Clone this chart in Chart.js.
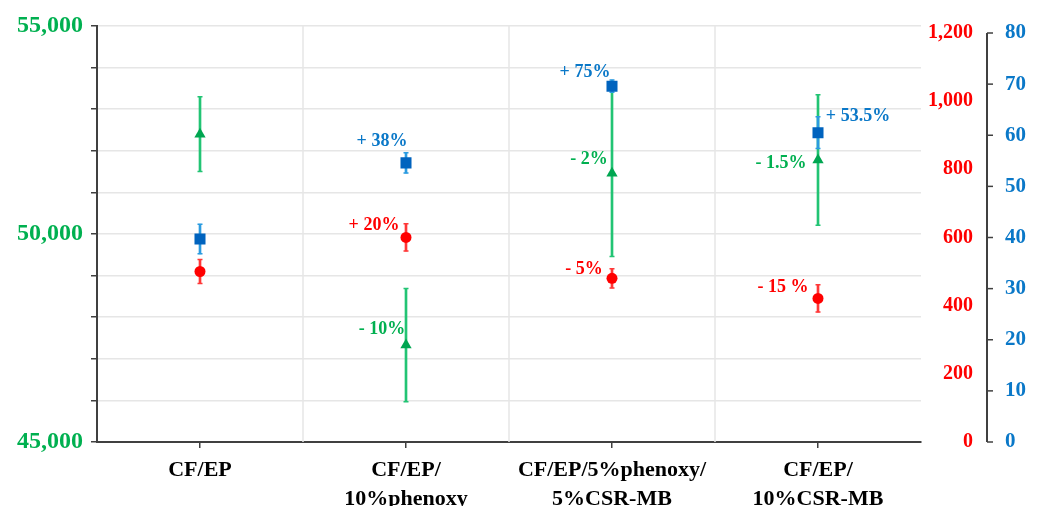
<!DOCTYPE html>
<html><head><meta charset="utf-8">
<script src="https://cdn.jsdelivr.net/npm/chart.js@4.4.1/dist/chart.umd.min.js"></script>
<style>html,body{margin:0;padding:0;background:#fff}</style>
</head><body>
<canvas id="c" width="1041" height="506"></canvas>
<script>
// ---- data ----
const categories = [['CF/EP'], ['CF/EP/', '10%phenoxy'], ['CF/EP/5%phenoxy/', '5%CSR-MB'], ['CF/EP/', '10%CSR-MB']];
const greenMean = [52400, 47330, 51460, 51780];
const greenErr  = [900, 1360, 2000, 1570];
const redMean   = [500, 600, 480, 421];
const redErr    = [35, 40, 28, 40];
const blueMean  = [39.7, 54.6, 69.6, 60.5];
const blueErr   = [2.9, 2.0, 1.2, 3.1];
const greenLabelTicks = [45000, 50000, 55000];
const redTicks  = [0, 200, 400, 600, 800, 1000, 1200];
const blueTicks = [0, 10, 20, 30, 40, 50, 60, 70, 80];
const annoText   = ['+ 38%', '+ 20%', '- 10%', '+ 75%', '- 2%', '- 5%', '+ 53.5%', '- 1.5%', '- 15 %'];
const annoSeries = ['blue', 'red', 'green', 'blue', 'green', 'red', 'blue', 'green', 'red'];
const annoIndex  = [1, 1, 1, 2, 2, 2, 3, 3, 3];

// ---- styles ----
const SERIF = "'Liberation Serif', 'Times New Roman', serif";
const C = {
  green: {text: '#00b050', mark: '#00a651', err: '#22c474', axis: 'y'},
  red:   {text: '#ff0000', mark: '#ff0000', err: '#ff3838', axis: 'y1'},
  blue:  {text: '#0a78c8', mark: '#0063be', err: '#2b9be0', axis: 'y2'}
};
const annoOffset = [[-24,-22],[-32,-12],[-24,-16],[-27,-14],[-23,-14],[-28,-9],[40,-16],[-37,3],[-35,-11]];
const AXIS = '#404040', GRID = '#e6e6e6';
const BLUE_AXIS_GAP = 14, BLUE_TICK = 6;
const series = {green: [greenMean, greenErr], red: [redMean, redErr], blue: [blueMean, blueErr]};

function stems(name, order) {
  const [m, e] = series[name];
  return {type: 'bar', yAxisID: C[name].axis, data: m.map((v, i) => [v - e[i], v + e[i]]),
    backgroundColor: C[name].err, borderWidth: 0, barThickness: 2, grouped: false, order};
}
function cap(name, sign, order) {
  const [m, e] = series[name];
  return {type: 'line', yAxisID: C[name].axis, showLine: false, order,
    data: m.map((v, i) => v + sign * e[i]),
    pointStyle: 'line', pointRadius: 2.5, pointBorderWidth: 1.5, borderColor: C[name].err, backgroundColor: C[name].err};
}
function marks(name, style, r, order) {
  return {type: 'line', yAxisID: C[name].axis, showLine: false, order, data: series[name][0],
    pointStyle: style, pointRadius: r, pointBorderWidth: 0, backgroundColor: C[name].mark, borderColor: C[name].mark};
}

const boundaryLines = {
  id: 'boundaryLines',
  beforeDatasetsDraw(chart) {
    const {ctx, chartArea: a, scales: {x}} = chart;
    ctx.save(); ctx.strokeStyle = GRID; ctx.lineWidth = 1.5;
    for (let i = 1; i < categories.length; i++) {
      const px = (x.getPixelForValue(i - 1) + x.getPixelForValue(i)) / 2;
      ctx.beginPath(); ctx.moveTo(px, a.top); ctx.lineTo(px, a.bottom); ctx.stroke();
    }
    ctx.restore();
  }
};
const blueAxisLine = {
  id: 'blueAxisLine',
  afterDraw(chart) {
    const s = chart.scales.y2, ctx = chart.ctx, bx = s.left + BLUE_AXIS_GAP;
    ctx.save(); ctx.strokeStyle = AXIS; ctx.lineWidth = 2;
    ctx.beginPath(); ctx.moveTo(bx, s.getPixelForValue(blueTicks[blueTicks.length - 1]));
    ctx.lineTo(bx, s.getPixelForValue(0)); ctx.stroke();
    ctx.lineWidth = 1.5;
    blueTicks.forEach(v => {
      const py = s.getPixelForValue(v);
      ctx.beginPath(); ctx.moveTo(bx, py); ctx.lineTo(bx + BLUE_TICK, py); ctx.stroke();
    });
    ctx.restore();
  }
};
const annotations = {
  id: 'annotations',
  afterDatasetsDraw(chart) {
    const ctx = chart.ctx, x = chart.scales.x;
    ctx.save(); ctx.font = 'bold 18px ' + SERIF; ctx.textAlign = 'center'; ctx.textBaseline = 'middle';
    annoText.forEach((t, k) => {
      const name = annoSeries[k], i = annoIndex[k];
      const ys = chart.scales[C[name].axis];
      ctx.fillStyle = C[name].text;
      ctx.fillText(t, x.getPixelForValue(i) + annoOffset[k][0], ys.getPixelForValue(series[name][0][i]) + annoOffset[k][1]);
    });
    ctx.restore();
  }
};

new Chart(document.getElementById('c'), {
  type: 'line',
  data: {
    labels: categories,
    datasets: [
      stems('green', 20), cap('green', 1, 19), cap('green', -1, 19),
      stems('red', 18), cap('red', 1, 17), cap('red', -1, 17),
      stems('blue', 16), cap('blue', 1, 15), cap('blue', -1, 15),
      marks('green', 'triangle', 6.5, 5),
      marks('red', 'circle', 5.5, 4),
      marks('blue', 'rect', 7.8, 3)
    ]
  },
  options: {
    responsive: false, animation: false, devicePixelRatio: 1,
    layout: {padding: {top: 26, left: 0, right: 0, bottom: 0}},
    plugins: {legend: {display: false}, tooltip: {enabled: false}},
    scales: {
      x: {
        type: 'category', offset: true,
        grid: {offset: false, drawOnChartArea: false, tickLength: 6, color: AXIS, lineWidth: 1.5},
        border: {color: AXIS, width: 2},
        ticks: {color: '#000', font: {family: SERIF, size: 22, weight: 'bold', lineHeight: 1.3}, padding: 8, maxRotation: 0, autoSkip: false},
        afterFit(s) { s.height = 64; }
      },
      y: {
        position: 'left', min: 45000, max: 55000,
        ticks: {stepSize: 1000, color: C.green.text, padding: 8,
          font: {family: SERIF, size: 24, weight: 'bold'},
          callback: v => greenLabelTicks.includes(v) ? v.toLocaleString('en-US') : ''},
        grid: {color: GRID, lineWidth: 1.5, tickLength: 6, tickColor: AXIS, tickWidth: 1.5},
        border: {color: AXIS, width: 2},
        afterFit(s) { s.width = 97; }
      },
      y1: {
        position: 'right', min: 0, max: 1220,
        afterBuildTicks(s) { s.ticks = redTicks.map(v => ({value: v})); },
        ticks: {color: C.red.text, crossAlign: 'far', padding: 0,
          font: {family: SERIF, size: 20, weight: 'bold'},
          callback: v => v.toLocaleString('en-US')},
        grid: {display: false, drawTicks: false},
        border: {display: false},
        afterFit(s) { s.width = 52; }
      },
      y2: {
        position: 'right', min: 0, max: 81.37,
        afterBuildTicks(s) { s.ticks = blueTicks.map(v => ({value: v})); },
        ticks: {color: C.blue.text, padding: 8, font: {family: SERIF, size: 21, weight: 'bold'}},
        grid: {display: false, drawTicks: true, tickLength: 24},
        border: {display: false},
        afterFit(s) { s.width = 68; }
      }
    }
  },
  plugins: [boundaryLines, annotations, blueAxisLine]
});
</script>
</body></html>
